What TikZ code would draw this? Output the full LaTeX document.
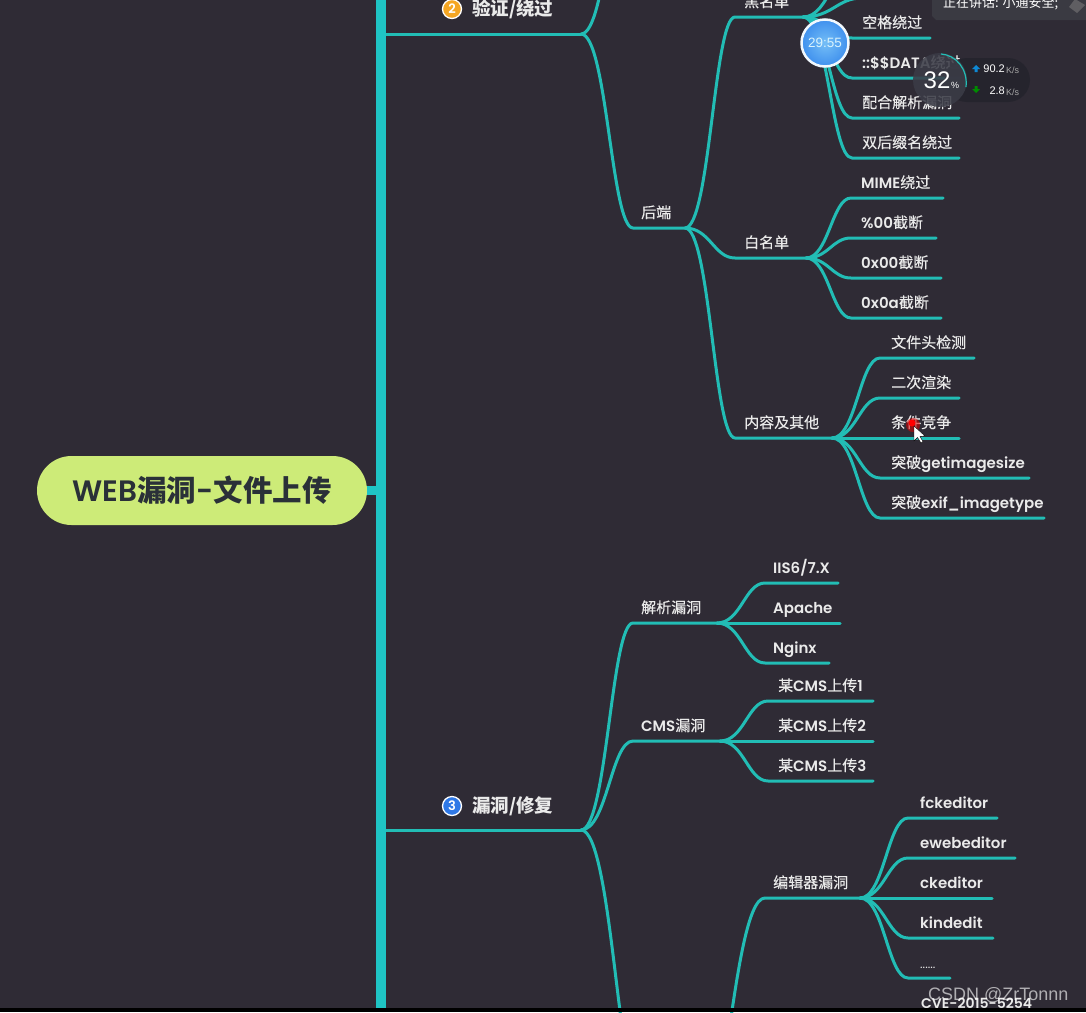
\documentclass[tikz,border=0pt]{standalone}
\usepackage{fontspec}
\setmainfont{Poppins}[BoldFont={Poppins SemiBold}]
\newfontfamily\cjk{Noto Sans CJK SC}
\newfontfamily\cjkm{Noto Sans CJK SC}[FakeBold=0.35]
\newfontfamily\libs{Liberation Sans}
\usetikzlibrary{calc}
\definecolor{bgc}{HTML}{2F2B35}
\definecolor{teal}{HTML}{22BDB5}
\definecolor{trunkc}{HTML}{1FC4C4}
\definecolor{pillc}{HTML}{CDEB78}
\definecolor{txtc}{HTML}{EAEAEA}
\definecolor{roottxt}{HTML}{2A3038}
\definecolor{timerin}{HTML}{74BEF6}
\definecolor{timerout}{HTML}{3F90EE}
\definecolor{badgeb}{HTML}{2F78E6}
\definecolor{badgeo}{HTML}{F5A623}
\definecolor{wcirc}{HTML}{3B3C47}
\definecolor{wpill}{HTML}{24242D}
\definecolor{barc}{HTML}{3A3A42}
\tikzset{
  conn/.style={draw=teal,line width=3pt,line cap=round,line join=round,
    to path={let \p1=(\tikztostart),\p2=(\tikztotarget) in
      .. controls ({\x1*.5+\x2*.5},\y1) and ({\x1*.42+\x2*.58},\y2) .. (\tikztotarget)}},
  lab/.style={anchor=base west,inner sep=0pt,text=txtc,font=\fontsize{15}{15}\selectfont\bfseries},
  head/.style={anchor=west,inner sep=0pt,text=txtc,font=\fontsize{18.5}{19}\selectfont\bfseries},
  badge/.style={circle,draw=white,line width=1.3pt,minimum size=19pt,inner sep=0pt,text=white,font=\fontsize{13}{13}\selectfont\bfseries},
  widgettext/.style={inner sep=0pt,text=white,font=\libs\fontsize{11}{11}\selectfont},
}
% name, parent, curve end x, y, line end x, text x, text
\newcommand\mmleaf[7]{%
  \coordinate (#1s) at (#3,#4);
  \coordinate (#1e) at (#5,#4);
  \draw[conn] (#2) to (#1s) -- (#1e);
  \node[lab] (#1) at (#6,#4-10) {#7};
}
\newcommand\C[1]{{\mdseries\cjk\bfseries #1}}
\newcommand\N[1]{{\mdseries\cjkm #1}}
\begin{document}
\begin{tikzpicture}[x=1pt,y=-1pt]
\useasboundingbox (0,0) rectangle (1086,1012);
\fill[bgc] (0,0) rectangle (1086,1012);

% free ends and junctions
\coordinate (trunkjoin2) at (386,34);
\coordinate (j2) at (581,34);
\coordinate (j3) at (581,830);
\coordinate (top2) at (634,-150);
\coordinate (low3) at (645,1110);
\coordinate (lowpar) at (680,1220);
\coordinate (topa) at (858,-42);

% level-one connectors
\draw[teal,line width=3pt,line cap=round] (trunkjoin2) -- (j2);
\draw[teal,line width=3pt,line cap=round] (386,830) -- (j3);
\draw[conn] (j2) to (top2);

% backend
\mmleaf{hd}{j2}{633}{228}{685}{641}{\N{后端}}
\coordinate (jhd) at (685,228);
\mmleaf{bl}{jhd}{735}{17}{803}{744}{\N{黑名单}}
\mmleaf{wl}{jhd}{735}{258}{806}{744}{\N{白名单}}
\mmleaf{nr}{jhd}{735}{438}{832}{744}{\N{内容及其他}}

\coordinate (jbl) at (803,17);
\draw[conn] (jbl) to (topa);
\coordinate (topbs) at (862,-2);
\coordinate (topbe) at (915,-2);
\draw[conn] (jbl) to (topbs) -- (topbe);
\mmleaf{kg}{jbl}{852}{38}{930}{862}{\N{空格绕过}}
\mmleaf{dt}{jbl}{852}{78}{960}{862}{::\$\$DATA\N{绕过}}
\mmleaf{ph}{jbl}{852}{118}{959}{862}{\N{配合解析漏洞}}
\mmleaf{sh}{jbl}{852}{158}{959}{862}{\N{双后缀名绕过}}

\coordinate (jwl) at (806,258);
\mmleaf{mm}{jwl}{851}{198}{943}{861}{MIME\N{绕过}}
\mmleaf{p0}{jwl}{851}{238}{936}{861}{\%00\N{截断}}
\mmleaf{x0}{jwl}{851}{278}{941}{861}{0x00\N{截断}}
\mmleaf{xa}{jwl}{851}{318}{941}{861}{0x0a\N{截断}}

\coordinate (jnr) at (832,438);
\mmleaf{wj}{jnr}{880}{358}{974}{891}{\N{文件头检测}}
\mmleaf{ec}{jnr}{880}{398}{959}{891}{\N{二次渲染}}
\mmleaf{tj}{jnr}{880}{438}{959}{891}{\N{条件竞争}}
\mmleaf{gs}{jnr}{880}{478}{1029}{891}{\N{突破}getimagesize}
\mmleaf{ex}{jnr}{880}{518}{1044}{891}{\N{突破}exif\_imagetype}

% branch 3
\draw[conn] (j3) to (low3);
\mmleaf{jx}{j3}{633}{623}{717}{641}{\N{解析漏洞}}
\mmleaf{cm}{j3}{633}{741}{720}{641}{CMS\N{漏洞}}
\coordinate (jjx) at (717,623);
\mmleaf{ii}{jjx}{765}{583}{838}{773}{IIS6/7.X}
\mmleaf{ap}{jjx}{765}{623}{840}{773}{Apache}
\mmleaf{ng}{jjx}{765}{663}{829}{773}{Nginx}
\coordinate (jcm) at (720,741);
\mmleaf{c1}{jcm}{768}{701}{873}{778}{\N{某}CMS\N{上传}1}
\mmleaf{c2}{jcm}{768}{741}{873}{778}{\N{某}CMS\N{上传}2}
\mmleaf{c3}{jcm}{768}{781}{873}{778}{\N{某}CMS\N{上传}3}
\mmleaf{bj}{lowpar}{765}{898}{860}{773}{\N{编辑器漏洞}}
\coordinate (jbj) at (860,898);
\mmleaf{fc}{jbj}{908}{818}{997}{920}{fckeditor}
\mmleaf{ew}{jbj}{908}{858}{1015}{920}{ewebeditor}
\mmleaf{ck}{jbj}{908}{898}{992}{920}{ckeditor}
\mmleaf{kd}{jbj}{908}{938}{993}{920}{kindedit}
\mmleaf{dd}{jbj}{908}{978}{950}{920}{{\fontsize{12}{12}\selectfont\mdseries ......}}
\node[lab,font=\fontsize{14}{14}\selectfont\bfseries] (cve) at (921,1008) {CVE-2015-5254};

% trunk and root
\fill[trunkc] (376,-2) rectangle (386,1010);
\fill[trunkc] (360,486) rectangle (378,495);
\node[rounded corners=34.5pt,fill=pillc,minimum width=330pt,minimum height=69pt,inner sep=0pt,
      text=roottxt,font=\fontsize{29.5}{30}\selectfont\bfseries] (root) at (202,490.5)
      {WEB\C{漏洞}-\C{文件上传}};

% headings
\node[badge,fill=badgeo] (b2) at (452,9) {2};
\node[head] (h2) at (472,9) {\C{验证/绕过}};
\node[badge,fill=badgeb] (b3) at (452,806) {3};
\node[head] (h3) at (472,806) {\C{漏洞/修复}};

% cursor
\fill[red!85!black,opacity=.55] (913,425) circle (7);
\fill[red] (912,423) circle (3.5);
\path[fill=white,draw=black,line width=.4pt] (914,426) -- (914,441) -- (917.5,437.5) -- (921,443) -- (923,441.5) -- (920,436.5) -- (925,436) -- cycle;

% bottom strip and watermark
\fill[black] (0,1008) rectangle (1086,1012);
\node[inner sep=0pt,anchor=west,text=white,opacity=.62,font=\libs\fontsize{18}{18}\selectfont] (wm) at (928,995) {CSDN @ZrTonnn};

% speaker bar
\fill[barc] (932,-1) -- (1086,-1) -- (1086,20) -- (936,20) -- (932,16) -- cycle;
\node[inner sep=0pt,anchor=west,text=white,font=\cjk\fontsize{13}{13}\selectfont] (spk) at (943,3) {正在讲话: 小通安全;};
\fill[gray!60!bgc] (1075,-1) -- (1085,5) -- (1077,13) -- (1069,7) -- cycle;

% timer
\node[circle,minimum size=47pt,inner sep=0pt,draw=white!90!timerin,line width=2.5pt,
      inner color=timerin,outer color=timerout,
      text=white!85!cyan,font=\libs\fontsize{13.5}{14}\selectfont] (timer) at (825,43) {29:55};

% network widget
\fill[wpill,opacity=.9,rounded corners=22pt] (945,58) rectangle (1030,102);
\fill[wcirc,opacity=.88] (940,80) circle (27);
\draw[teal,line width=1.2pt] (941,54) .. controls (956,55) and (968,69) .. (966,87);
\node[widgettext,font=\libs\fontsize{24}{24}\selectfont] (pct) at (937,80) {32};
\node[widgettext,font=\libs\fontsize{9}{9}\selectfont] (pc) at (955,85) {\%};
\fill[cyan!70!blue] (976,65) -- (980,69) -- (977.5,69) -- (977.5,72) -- (974.5,72) -- (974.5,69) -- (972,69) -- cycle;
\fill[green!55!black] (976,93) -- (980,89) -- (977.5,89) -- (977.5,86) -- (974.5,86) -- (974.5,89) -- (972,89) -- cycle;
\node[widgettext,anchor=east] (up) at (1005,69) {90.2};
\node[widgettext,anchor=east] (dn) at (1005,91) {2.8};
\node[widgettext,anchor=west,text=gray!70!white,font=\libs\fontsize{9}{9}\selectfont] (ups) at (1006,70) {K/s};
\node[widgettext,anchor=west,text=gray!70!white,font=\libs\fontsize{9}{9}\selectfont] (dns) at (1006,92) {K/s};
\end{tikzpicture}
\end{document}
